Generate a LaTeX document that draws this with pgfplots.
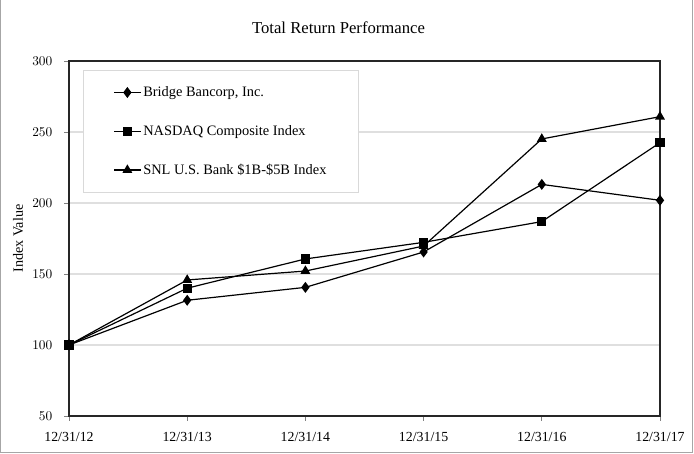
\documentclass[border=0pt]{standalone}
\usepackage{fontspec}
\setmainfont{Liberation Serif}
\usepackage{pgfplots}
\pgfplotsset{compat=1.18}
\begin{document}
\begin{tikzpicture}
% picture frame, 1px = 0.75pt
\useasboundingbox (0,0) rectangle (520.5pt,-340.5pt);
\draw[gray!70, line width=0.75pt] (0.6pt,0) -- (0.6pt,-339.4pt) -- (519.6pt,-339.4pt) -- (519.6pt,0);
\begin{axis}[
    at={(51.75pt,-312pt)}, anchor=south west,
    scale only axis,
    width=443.25pt, height=266.25pt,
    xmin=0, xmax=5, ymin=50, ymax=300,
    xtick={0,1,2,3,4,5},
    xticklabels={12/31/12,12/31/13,12/31/14,12/31/15,12/31/16,12/31/17},
    ytick={50,100,150,200,250,300},
    xtick pos=bottom, ytick pos=left,
    tick align=outside, major tick length=3.5pt,
    tick style={gray, line width=0.6pt},
    ymajorgrids, grid style={gray!25, line width=1pt},
    axis line style={black!85, line width=0.9pt},
    ticklabel style={font=\fontsize{10.4}{12}\selectfont},
    yticklabel style={xshift=-5.5pt},
    xticklabel style={yshift=-5.5pt},
    ylabel={Index Value},
    ylabel style={at={(axis description cs:-0.0863,0.5)}, anchor=center, font=\fontsize{10.6}{12}\selectfont},
    title={Total Return Performance},
    title style={at={(axis description cs:0.5,1)}, anchor=center, yshift=18.75pt, xshift=-19.5pt, font=\fontsize{12.5}{14}\selectfont},
    clip=false,
    legend cell align=left,
    legend style={at={(axis description cs:0.0237,0.9746)}, anchor=north west,
        draw=gray!30, line width=0.75pt, inner xsep=22.5pt, inner ysep=10pt,
        row sep=16pt, font=\fontsize{10.8}{12}\selectfont,
        nodes={inner xsep=1.5pt}},
    legend image code/.code={\draw[mark repeat=2,mark phase=2] plot coordinates {(0cm,0cm) (0.35cm,0cm) (0.7cm,0cm)};},
    every axis plot/.append style={black, line width=0.9pt, mark options={solid, fill=black}},
]
\addplot[mark=diamond*, mark size=3.4pt] coordinates {
    (0,100) (1,131.5) (2,140.6) (3,165.5) (4,213.1) (5,201.9)
};
\addlegendentry{Bridge Bancorp, Inc.}
\addplot[mark=square*, mark size=3pt] coordinates {
    (0,100) (1,140.0) (2,160.6) (3,172.3) (4,186.9) (5,242.5)
};
\addlegendentry{NASDAQ Composite Index}
\addplot[mark=triangle*, mark size=3.4pt] coordinates {
    (0,100) (1,145.8) (2,152.1) (3,169.7) (4,245.1) (5,260.8)
};
\addlegendentry{SNL U.S. Bank \$1B-\$5B Index}
\end{axis}
\end{tikzpicture}
\end{document}
